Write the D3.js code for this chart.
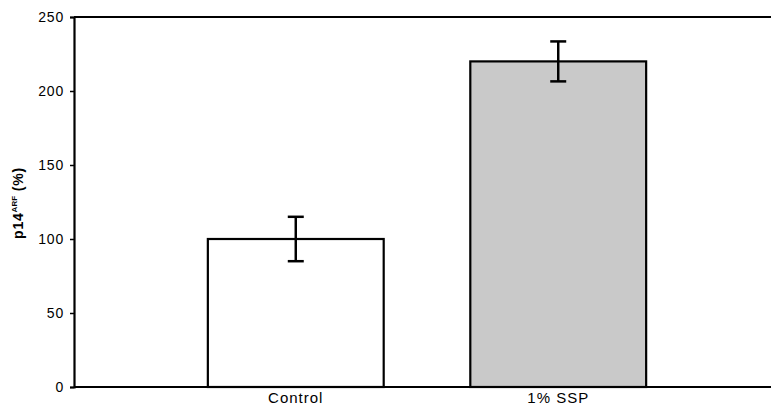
<!DOCTYPE html>
<html>
<head>
<meta charset="utf-8">
<script src="https://cdn.jsdelivr.net/npm/d3@7"></script>
<style>
  body { margin: 0; background: #fff; }
  text { font-family: Arial, "Liberation Sans", sans-serif; }
</style>
</head>
<body>
<div class="js-chart"></div>
<script>
'use strict';

// data
var groups = ['Control', '1% SSP'];
var means = [100, 220];
var errors = [15, 13.5];
var yTicks = [0, 50, 100, 150, 200, 250];

var dim = { w: 771, h: 410 };
var margin = { l: 74, t: 17, b: 23 };

var svg = d3.select('.js-chart').append('svg')
    .attr('width', dim.w)
    .attr('height', dim.h);

var x = d3.scaleBand()
    .domain(groups)
    .range([margin.l, 780])
    .paddingInner(0.33)
    .paddingOuter(0.51);

var y = d3.scaleLinear()
    .domain([0, 250])
    .range([dim.h - margin.b, margin.t]);

var rows = groups.map(function (g, i) {
    return { name: g, v: means[i], e: errors[i] };
});

// bars
svg.selectAll('.bar').data(rows).enter().append('rect')
    .attr('class', 'bar')
    .attr('x', function (d) { return x(d.name); })
    .attr('y', function (d) { return y(d.v); })
    .attr('width', x.bandwidth())
    .attr('height', function (d) { return y(0) - y(d.v); })
    .style('fill', function (d, i) { return i === 0 ? '#ffffff' : '#c9c9c9'; })
    .style('stroke', '#000')
    .style('stroke-width', 2.2);

// error bars
var eb = svg.selectAll('.err').data(rows).enter().append('g').attr('class', 'err')
    .attr('transform', function (d) { return 'translate(' + (x(d.name) + x.bandwidth() / 2) + ',0)'; })
    .style('stroke', '#000')
    .style('stroke-width', 2.5);
eb.append('line')
    .attr('y1', function (d) { return y(d.v + d.e); })
    .attr('y2', function (d) { return y(d.v - d.e); });
eb.append('line').attr('x1', -8).attr('x2', 8)
    .attr('y1', function (d) { return y(d.v + d.e); })
    .attr('y2', function (d) { return y(d.v + d.e); });
eb.append('line').attr('x1', -8).attr('x2', 8)
    .attr('y1', function (d) { return y(d.v - d.e); })
    .attr('y2', function (d) { return y(d.v - d.e); });

// top frame line
svg.append('line')
    .attr('x1', margin.l).attr('x2', dim.w)
    .attr('y1', y(250)).attr('y2', y(250))
    .style('stroke', '#000').style('stroke-width', 2.2);

// y axis
var yAxis = svg.append('g')
    .attr('transform', 'translate(' + margin.l + ',0)')
    .call(d3.axisLeft(y).tickValues(yTicks).tickSize(4).tickPadding(6));
yAxis.select('.domain').style('stroke-width', 2.2);
yAxis.selectAll('.tick line').style('stroke-width', 1.5);
yAxis.selectAll('text').style('font-size', '14px').style('letter-spacing', '0.8px').style('fill', '#000');

// x axis
var xAxis = svg.append('g')
    .attr('transform', 'translate(0,' + y(0) + ')')
    .call(d3.axisBottom(x).tickSize(0).tickPadding(5).tickSizeOuter(0));
xAxis.select('.domain').attr('d', 'M' + margin.l + ',0H' + dim.w).style('stroke-width', 2.2);
xAxis.selectAll('text').style('font-size', '15px').style('letter-spacing', '1px').style('fill', '#000');

// y label
var lab = svg.append('text')
    .attr('transform', 'translate(23,' + 203 + ') rotate(-90)')
    .attr('text-anchor', 'middle')
    .style('font-size', '14px')
    .style('letter-spacing', '0.8px')
    .style('font-weight', 'bold');
lab.append('tspan').text('p14');
lab.append('tspan').attr('dy', -6).style('font-size', '8px').style('letter-spacing', '0px').text('ARF');
lab.append('tspan').attr('dy', 6).text(' (%)');
</script>
</body>
</html>
